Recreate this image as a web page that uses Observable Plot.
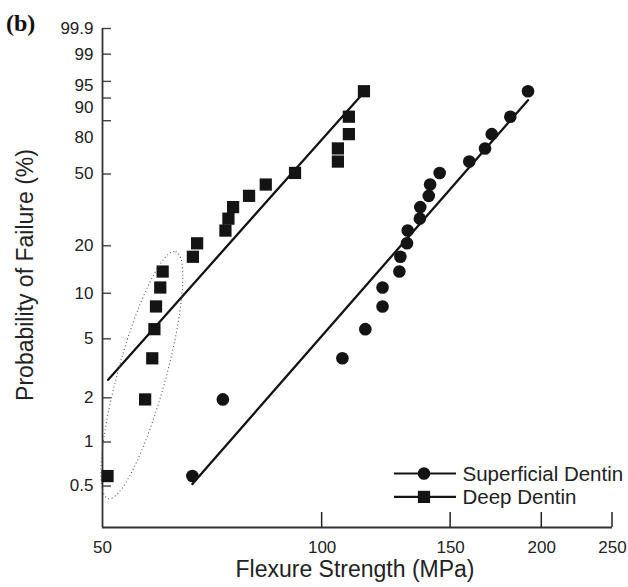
<!DOCTYPE html>
<html>
<head>
<meta charset="utf-8">
<script src="https://cdn.jsdelivr.net/npm/d3@7"></script>
<script src="https://cdn.jsdelivr.net/npm/@observablehq/plot@0.6"></script>
<style>
  html, body { margin: 0; padding: 0; background: #fff; }
  #chart svg { display: block; }
</style>
</head>
<body>
<div id="chart"></div>
<script>
// ---------- data ----------
const seriesNames = ["Superficial Dentin", "Deep Dentin"];
const seriesSymbols = ["circle", "square"];

// probability of failure (%) assigned to ranked specimens (n = 20 each)
const rankProbability = [0.585, 1.95, 3.7, 5.8, 8.2, 10.9, 13.8, 17.1, 20.7, 24.7,
                         29.0, 33.7, 38.8, 44.4, 50.6, 57.0, 64.6, 72.8, 82.0, 92.3];

// flexure strength (MPa), ranked
const superficialStrength = [66.4, 73.1, 106.6, 114.6, 121.0, 121.0, 127.6, 128.0, 130.7, 131.0,
                             136.1, 136.3, 140.0, 140.6, 144.9, 159.1, 167.2, 170.8, 181.1, 191.5];
const deepStrength = [50.8, 57.2, 58.5, 58.9, 59.2, 60.0, 60.45, 66.5, 67.4, 73.7,
                      74.4, 75.5, 79.4, 83.7, 91.8, 105.1, 105.1, 108.8, 108.8, 114.1];

// Weibull fit lines: end points (strength MPa, probability %)
const superficialFitStrength = [66.4, 191.5];
const superficialFitProbability = [0.516, 89.2];
const deepFitStrength = [50.9, 112.7];
const deepFitProbability = [2.65, 90.5];

// annotation ellipse around low-strength deep-dentin specimens (centre)
const ellipseCenterStrength = 56.7;
const ellipseCenterProbability = 2.83;

// axes
const xTicks = [50, 100, 150, 200, 250];
const yTicks = [0.5, 1, 2, 5, 10, 20, 50, 80, 90, 95, 99, 99.9];
const yTickLabels = ["0.5", "1", "2", "5", "10", "20", "50", "80", "90", "95", "99", "99.9"];
const xDomain = [50, 250];
const yDomainPct = [0.26, 99.9];

const panelLabel = "(b)";
const xTitle = "Flexure Strength (MPa)";
const yTitle = "Probability of Failure (%)";

// ---------- helpers ----------
const weib = p => Math.log(-Math.log(1 - p / 100));
const FONT = "'Liberation Sans', Arial, Helvetica, sans-serif";
const INK = "#141414";
const W = 628, H = 587, ML = 102, MR = 16, MT = 28, MB = 60;
const frameW = W - ML - MR, frameH = H - MT - MB;
// label nudges (px) where the printed labels sit below their ticks
const labelNudge = {"95": 4, "90": 10, "80": 17};

const superficial = superficialStrength.map((s, i) => ({s, p: rankProbability[i]}));
const deep = deepStrength.map((s, i) => ({s, p: rankProbability[i]}));
const superficialFit = superficialFitStrength.map((s, i) => ({s, p: superficialFitProbability[i]}));
const deepFit = deepFitStrength.map((s, i) => ({s, p: deepFitProbability[i]}));
const yLabelRows = yTicks.map((t, i) => ({t, label: yTickLabels[i], nudge: labelNudge[yTickLabels[i]] || 0}));
const nudgeGroups = [...new Set(yLabelRows.map(d => d.nudge))];

const yLabelMarks = nudgeGroups.map(n =>
  Plot.text(yLabelRows.filter(d => d.nudge === n), {
    y: d => weib(d.t), text: "label", frameAnchor: "left", dx: -9, dy: n,
    textAnchor: "end", fontSize: 17, fill: "#222"
  })
);

const plot = Plot.plot({
  width: W,
  height: H,
  marginLeft: ML,
  marginRight: MR,
  marginTop: MT,
  marginBottom: MB,
  style: {fontFamily: FONT, fontSize: "17px", color: "#222", background: "#fff"},
  x: {type: "log", domain: xDomain},
  y: {type: "linear", domain: yDomainPct.map(weib), axis: null},
  marks: [
    Plot.axisX({ticks: xTicks, tickFormat: d => String(d), tickSize: 0, tickPadding: 13,
                label: null, fill: "#222", fontSize: 17}),
    Plot.tickY(yTicks, {y: d => weib(d), insetRight: frameW - 9, stroke: "#444", strokeWidth: 1.4}),
    ...yLabelMarks,
    Plot.ruleX([xDomain[0]], {stroke: "#333", strokeWidth: 1.8}),
    Plot.ruleY([weib(yDomainPct[0])], {stroke: "#333", strokeWidth: 1.8}),
    Plot.line(deepFit, {x: "s", y: d => weib(d.p), stroke: INK, strokeWidth: 2.3}),
    Plot.line(superficialFit, {x: "s", y: d => weib(d.p), stroke: INK, strokeWidth: 2.3}),
    Plot.dot(deep, {x: "s", y: d => weib(d.p), symbol: "square", r: 6.9, fill: INK, stroke: "none"}),
    Plot.dot(superficial, {x: "s", y: d => weib(d.p), symbol: "circle", r: 6.3, fill: INK, stroke: "none"})
  ]
});

const svg = d3.select(plot);
const xs = plot.scale("x"), ys = plot.scale("y");

// inward x-axis ticks (positions from Plot's x scale)
const axisY0 = H - MB;
svg.append("g").selectAll("line").data(xTicks.slice(1)).join("line")
  .attr("x1", d => xs.apply(d)).attr("x2", d => xs.apply(d))
  .attr("y1", axisY0).attr("y2", axisY0 - 15)
  .attr("stroke", "#222").attr("stroke-width", 1.5);

// dotted ellipse annotation
const cx = xs.apply(ellipseCenterStrength), cy = ys.apply(weib(ellipseCenterProbability));
svg.append("ellipse")
  .attr("cx", 0).attr("cy", 0).attr("rx", 128).attr("ry", 24)
  .attr("transform", `translate(${cx},${cy}) rotate(-74.7)`)
  .attr("fill", "none").attr("stroke", "#555").attr("stroke-width", 1.1)
  .attr("stroke-dasharray", "1 2.6");

// titles
svg.append("text").attr("x", 6).attr("y", 31).attr("text-anchor", "start")
  .attr("font-family", "'Liberation Serif', 'Times New Roman', serif")
  .attr("font-weight", "bold").attr("font-size", 24).attr("fill", "#111").text(panelLabel);
svg.append("text").attr("x", 355).attr("y", 577).attr("text-anchor", "middle")
  .attr("font-family", FONT).attr("font-size", 23).attr("fill", "#222").text(xTitle);
svg.append("text").attr("transform", "translate(33,275) rotate(-90)").attr("text-anchor", "middle")
  .attr("font-family", FONT).attr("font-size", 23).attr("fill", "#222").text(yTitle);

// legend
const lg = svg.append("g");
seriesNames.forEach((name, i) => {
  const y = 473.5 + i * 23.4;
  lg.append("line").attr("x1", 394).attr("x2", 456).attr("y1", y).attr("y2", y)
    .attr("stroke", INK).attr("stroke-width", 2.2);
  if (seriesSymbols[i] === "circle") {
    lg.append("circle").attr("cx", 424).attr("cy", y).attr("r", 6.3).attr("fill", INK);
  } else {
    lg.append("rect").attr("x", 424 - 6.1).attr("y", y - 6.1).attr("width", 12.2).attr("height", 12.2).attr("fill", INK);
  }
  lg.append("text").attr("x", 462.5).attr("y", y).attr("dy", "0.35em").attr("text-anchor", "start")
    .attr("font-family", FONT).attr("font-size", 20.5).attr("fill", "#222").text(name);
});

document.getElementById("chart").appendChild(plot);
</script>
</body>
</html>
